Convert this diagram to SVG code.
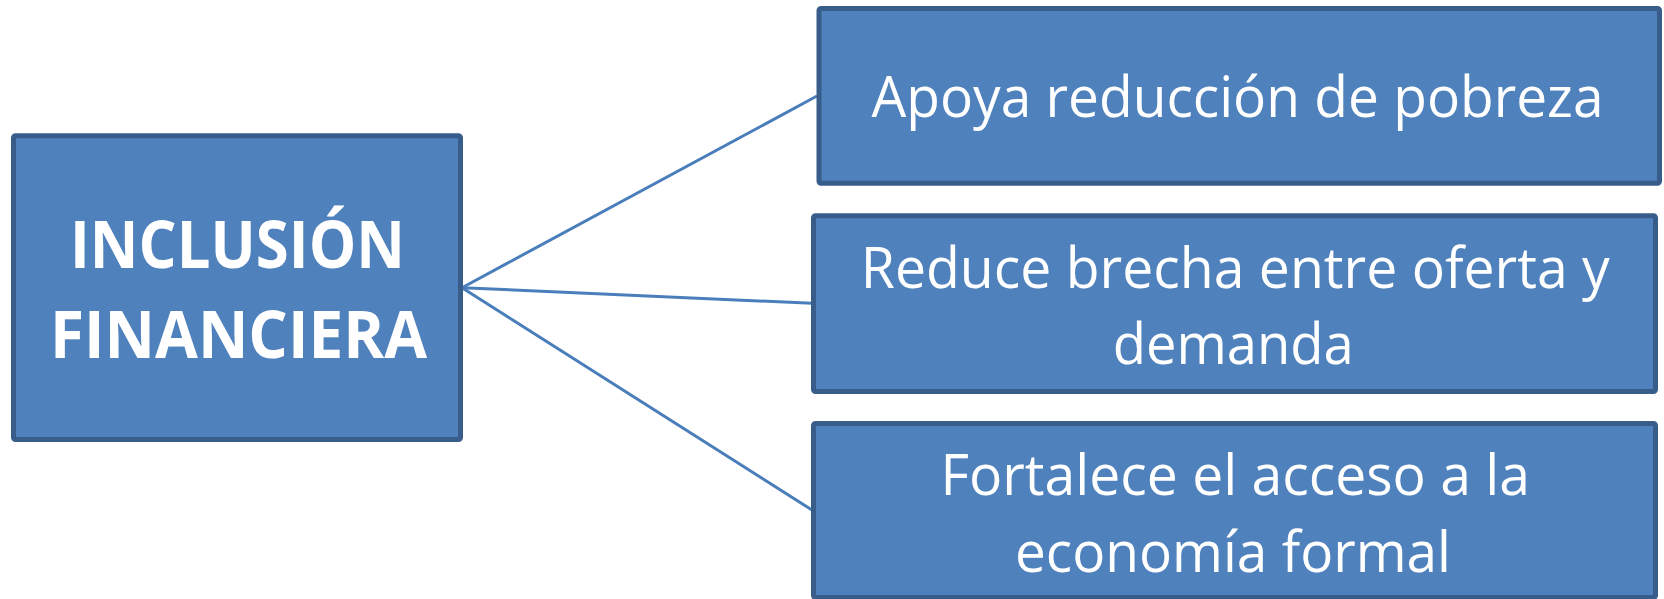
<svg xmlns="http://www.w3.org/2000/svg" width="1664" height="599" viewBox="0 0 1664 599">
<style>
.box{fill:#4F81BD;stroke:#385D8A;stroke-width:5}
.conn{stroke:#4A7EBB;stroke-width:3;fill:none}
.t{fill:#FFFFFF;font-family:"Open Sans","Liberation Sans",sans-serif;font-size:56px;text-anchor:middle}
.tb{fill:#FFFFFF;font-family:"Open Sans","Liberation Sans",sans-serif;font-size:67px;font-weight:bold;text-anchor:middle}
</style>
<rect width="1664" height="599" fill="#FFFFFF"/>
<g id="connectors">
<line class="conn" x1="462" y1="287.7" x2="817" y2="96"/>
<line class="conn" x1="462" y1="287.7" x2="812" y2="303.3"/>
<line class="conn" x1="462" y1="287.7" x2="812" y2="510"/>
</g>
<g id="node-inclusion">
<rect class="box" x="13.5" y="135.8" width="447" height="303.7" rx="2"/>
<text class="tb" x="237.5" y="268" textLength="335" lengthAdjust="spacingAndGlyphs">INCLUSIÓN</text>
<text class="tb" x="238.5" y="358" textLength="377" lengthAdjust="spacingAndGlyphs">FINANCIERA</text>
</g>
<g id="node-pobreza">
<rect class="box" x="819" y="8.5" width="840.5" height="174.7" rx="2"/>
<text class="t" x="1237.5" y="117" textLength="732" lengthAdjust="spacingAndGlyphs">Apoya reducción de pobreza</text>
</g>
<g id="node-brecha">
<rect class="box" x="813.5" y="215.8" width="842" height="175.7" rx="2"/>
<text class="t" x="1235.3" y="287.5" textLength="749" lengthAdjust="spacingAndGlyphs">Reduce brecha entre oferta y</text>
<text class="t" x="1233.3" y="363.5" textLength="241" lengthAdjust="spacingAndGlyphs">demanda</text>
</g>
<g id="node-economia">
<rect class="box" x="813.5" y="423.5" width="842" height="174" rx="2"/>
<text class="t" x="1235.2" y="495" textLength="589.5" lengthAdjust="spacingAndGlyphs">Fortalece el acceso a la</text>
<text class="t" x="1233" y="572" textLength="436" lengthAdjust="spacingAndGlyphs">economía formal</text>
</g>
</svg>
